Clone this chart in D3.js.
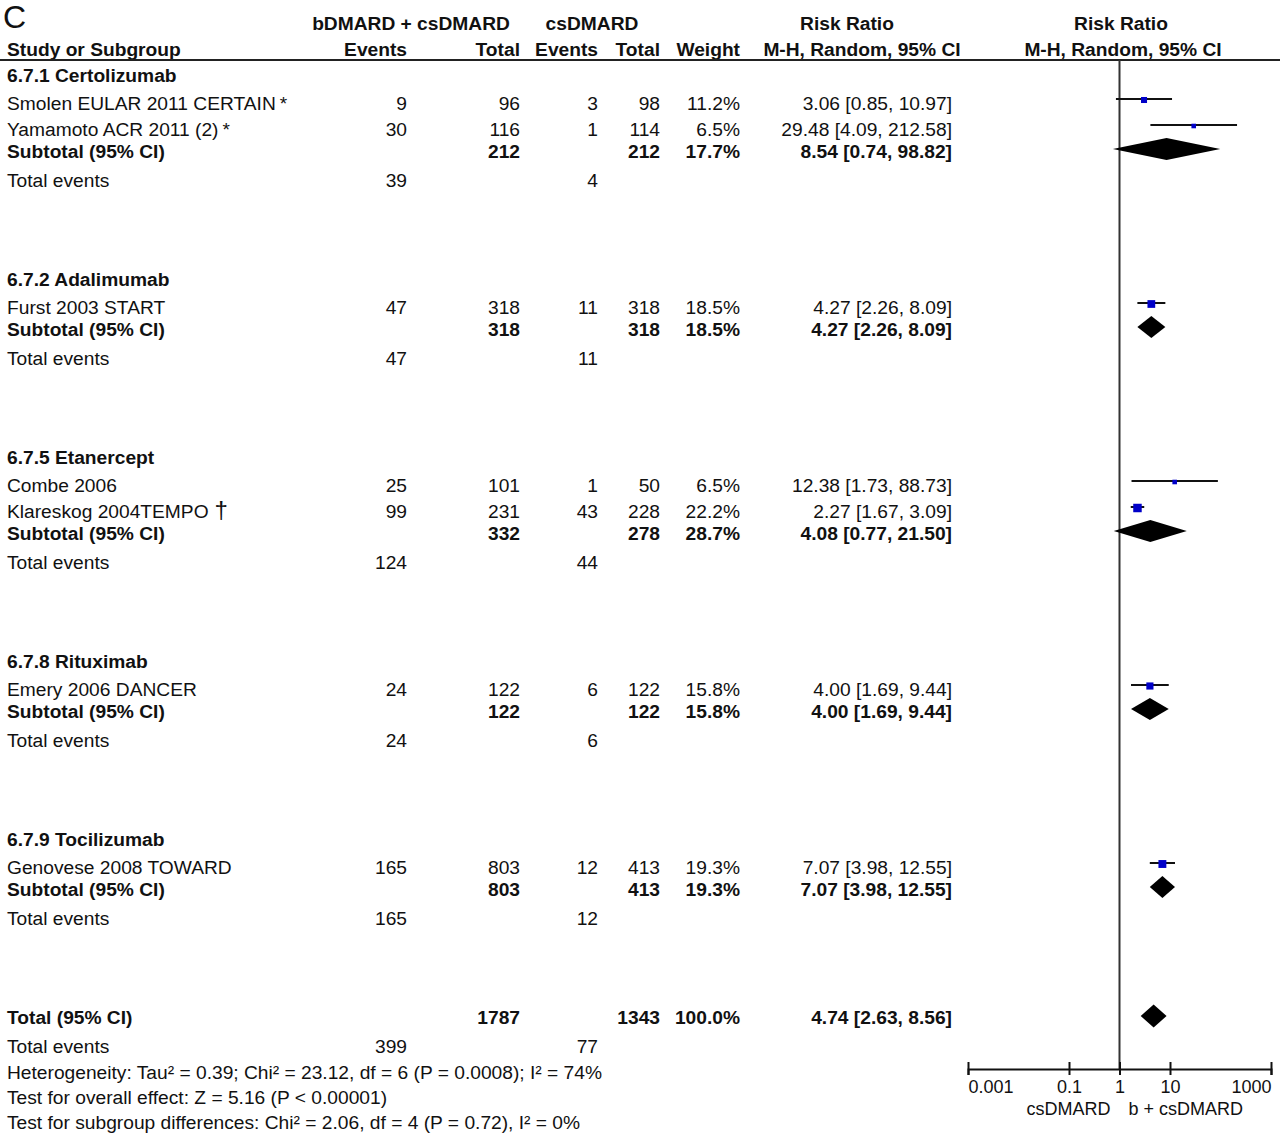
<!DOCTYPE html>
<html><head><meta charset="utf-8">
<script src="https://cdn.jsdelivr.net/npm/d3@7"></script>
<style>body{margin:0;background:#fff}svg{display:block;font-family:"Liberation Sans",Arial,sans-serif}</style>
</head><body><svg id="c" width="1280" height="1133"></svg>
<script>
// ---------- data ----------
const groupNames = ["6.7.1 Certolizumab","6.7.2 Adalimumab","6.7.5 Etanercept","6.7.8 Rituximab","6.7.9 Tocilizumab"];
const studyNames = ["Smolen EULAR 2011 CERTAIN","Yamamoto ACR 2011 (2)","Furst 2003 START","Combe 2006","Klareskog 2004TEMPO","Emery 2006 DANCER","Genovese 2008 TOWARD"];
const studyMarks = ["*","*","","","†","",""];
const studyGroup = [0,0,1,2,2,3,4];
const studyEv1 = [9,30,47,25,99,24,165];
const studyTot1 = [96,116,318,101,231,122,803];
const studyEv2 = [3,1,11,1,43,6,12];
const studyTot2 = [98,114,318,50,228,122,413];
const studyWeight = [11.2,6.5,18.5,6.5,22.2,15.8,19.3];
const studyRR = [3.06,29.48,4.27,12.38,2.27,4.00,7.07];
const studyLo = [0.85,4.09,2.26,1.73,1.67,1.69,3.98];
const studyHi = [10.97,212.58,8.09,88.73,3.09,9.44,12.55];

const subTot1 = [212,318,332,122,803];
const subTot2 = [212,318,278,122,413];
const subEv1 = [39,47,124,24,165];
const subEv2 = [4,11,44,6,12];
const subWeight = [17.7,18.5,28.7,15.8,19.3];
const subRR = [8.54,4.27,4.08,4.00,7.07];
const subLo = [0.74,2.26,0.77,1.69,3.98];
const subHi = [98.82,8.09,21.50,9.44,12.55];

const totalTot = [1787,1343];
const totalEv = [399,77];
const totalWeight = 100.0;
const totalRR = [4.74,2.63,8.56];
const footLines = [
  "Heterogeneity: Tau² = 0.39; Chi² = 23.12, df = 6 (P = 0.0008); I² = 74%",
  "Test for overall effect: Z = 5.16 (P < 0.00001)",
  "Test for subgroup differences: Chi² = 2.06, df = 4 (P = 0.72), I² = 0%"
];
const axisTicks = [0.001,0.1,1,10,1000];
const axisTickLabels = ["0.001","0.1","1","10","1000"];
const favourLabels = ["csDMARD","b + csDMARD"];

// ---------- layout ----------
const svg = d3.select("#c");
const FS = 19.2;
const col = {label:7, ev1:407, tot1:520, ev2:598, tot2:660, w:740, ci:952};
const x = d3.scaleLog().domain([0.001,1000]).range([968,1271]);
const sq = d3.scaleSqrt().domain([0,25]).range([0,9]);
const fmt2 = d3.format(".2f");
const ciText = (r,l,h)=>`${fmt2(r)} [${fmt2(l)}, ${fmt2(h)}]`;

function txt(xp, y, s, opt={}) {
  return svg.append("text").attr("x",xp).attr("y",y+6.8)
    .attr("font-size",opt.size||FS).attr("font-weight",opt.bold?"bold":"normal")
    .attr("text-anchor",opt.anchor||"start").attr("fill","#111").text(s);
}

// header
svg.append("text").attr("x",3).attr("y",28).attr("font-size",32).attr("fill","#111").text("C");
txt(411,23,"bDMARD + csDMARD",{bold:1,anchor:"middle"});
txt(592,23,"csDMARD",{bold:1,anchor:"middle"});
txt(847,23,"Risk Ratio",{bold:1,anchor:"middle"});
txt(1121,23,"Risk Ratio",{bold:1,anchor:"middle"});
txt(col.label,49,"Study or Subgroup",{bold:1});
txt(col.ev1,49,"Events",{bold:1,anchor:"end"});
txt(col.tot1,49,"Total",{bold:1,anchor:"end"});
txt(col.ev2,49,"Events",{bold:1,anchor:"end"});
txt(col.tot2,49,"Total",{bold:1,anchor:"end"});
txt(col.w,49,"Weight",{bold:1,anchor:"end"});
txt(862,49,"M-H, Random, 95% CI",{bold:1,anchor:"middle"});
txt(1123,49,"M-H, Random, 95% CI",{bold:1,anchor:"middle"});
svg.append("line").attr("x1",0).attr("x2",1280).attr("y1",60).attr("y2",60).attr("stroke","#222").attr("stroke-width",2);

const axisY = 1069;
// null line
svg.append("line").attr("x1",x(1)).attr("x2",x(1)).attr("y1",60).attr("y2",axisY).attr("stroke","#333").attr("stroke-width",2);

function diamond(y, r, l, h, hh=11) {
  svg.append("path").attr("d",`M${x(l)},${y}L${x(r)},${y-hh}L${x(h)},${y}L${x(r)},${y+hh}Z`).attr("fill","#000");
}

let y = 75;
groupNames.forEach((g,gi)=>{
  txt(col.label,y,g,{bold:1});
  let sy = y + 28;
  let last = sy;
  studyNames.forEach((s,i)=>{
    if (studyGroup[i]!==gi) return;
    const t = txt(col.label,sy,s);
    if (studyMarks[i]) t.append("tspan").attr("dx", studyMarks[i]==="†"?6:4).attr("font-size",studyMarks[i]==="†"?24:19).text(studyMarks[i]);
    txt(col.ev1,sy,studyEv1[i],{anchor:"end"});
    txt(col.tot1,sy,studyTot1[i],{anchor:"end"});
    txt(col.ev2,sy,studyEv2[i],{anchor:"end"});
    txt(col.tot2,sy,studyTot2[i],{anchor:"end"});
    txt(col.w,sy,studyWeight[i].toFixed(1)+"%",{anchor:"end"});
    txt(col.ci,sy,ciText(studyRR[i],studyLo[i],studyHi[i]),{anchor:"end"});
    const py = sy - 4;
    svg.append("line").attr("x1",x(studyLo[i])).attr("x2",x(studyHi[i])).attr("y1",py).attr("y2",py).attr("stroke","#111").attr("stroke-width",2);
    const s2 = sq(studyWeight[i]);
    svg.append("rect").attr("x",x(studyRR[i])-s2/2).attr("y",py-s2/2+1).attr("width",s2).attr("height",s2).attr("fill","#0000c8");
    last = sy;
    sy += 26;
  });
  const subY = last + 22;
  txt(col.label,subY,"Subtotal (95% CI)",{bold:1});
  txt(col.tot1,subY,subTot1[gi],{bold:1,anchor:"end"});
  txt(col.tot2,subY,subTot2[gi],{bold:1,anchor:"end"});
  txt(col.w,subY,subWeight[gi].toFixed(1)+"%",{bold:1,anchor:"end"});
  txt(col.ci,subY,ciText(subRR[gi],subLo[gi],subHi[gi]),{bold:1,anchor:"end"});
  diamond(subY-2, subRR[gi], subLo[gi], subHi[gi]);
  const evY = subY + 29;
  txt(col.label,evY,"Total events");
  txt(col.ev1,evY,subEv1[gi],{anchor:"end"});
  txt(col.ev2,evY,subEv2[gi],{anchor:"end"});
  y = evY + 99;
});

// overall
txt(col.label,y,"Total (95% CI)",{bold:1});
txt(col.tot1,y,totalTot[0],{bold:1,anchor:"end"});
txt(col.tot2,y,totalTot[1],{bold:1,anchor:"end"});
txt(col.w,y,totalWeight.toFixed(1)+"%",{bold:1,anchor:"end"});
txt(col.ci,y,ciText(totalRR[0],totalRR[1],totalRR[2]),{bold:1,anchor:"end"});
diamond(y-1, totalRR[0], totalRR[1], totalRR[2], 11.5);
y += 29;
txt(col.label,y,"Total events");
txt(col.ev1,y,totalEv[0],{anchor:"end"});
txt(col.ev2,y,totalEv[1],{anchor:"end"});
y += 26;
footLines.forEach((f,i)=>{ txt(col.label,y,f); y += 25; });

// axis
const ax = svg.append("g").attr("transform",`translate(0,${axisY})`)
  .call(d3.axisBottom(x).tickValues(axisTicks).tickFormat((d,i)=>axisTickLabels[i]).tickSizeOuter(0).tickSize(6));
ax.select(".domain").attr("stroke","#111").attr("stroke-width",2);
ax.selectAll(".tick line").attr("y1",-7).attr("y2",6).attr("stroke","#111").attr("stroke-width",2);
const nT = axisTicks.length;
ax.selectAll(".tick text").attr("y",11).attr("font-size",18).attr("font-family","Liberation Sans, Arial, sans-serif").attr("fill","#111")
  .attr("text-anchor",(d,i)=> i===0 ? "start" : (i===nT-1 ? "end" : "middle"));
txt(x(1)-9,1108,favourLabels[0],{size:18,anchor:"end"});
txt(x(1)+9,1108,favourLabels[1],{size:18,anchor:"start"});
</script></body></html>
